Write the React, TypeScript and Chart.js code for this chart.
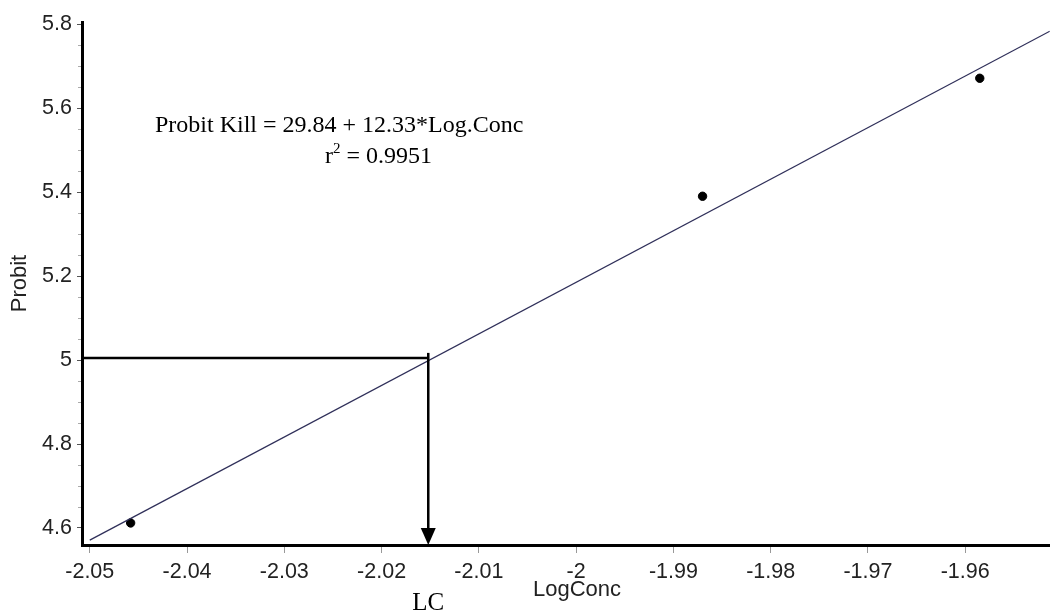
import React, { useEffect, useRef } from "react";
import { Chart, registerables } from "chart.js";

Chart.register(...registerables);

// Observed data points
const pointX = [-2.0458, -1.987, -1.9585];
const pointY = [4.612, 5.39, 5.671];

// Fitted regression line end points
const fitX = [-2.05, -1.9513];
const fitY = [4.571, 5.783];

// LC guide (probit 5 crossing)
const lcX = -2.0152;
const lcY = 5.005;
const lcTop = 5.017;

// Axis ranges and tick labels
const xMin = -2.0508;
const xMax = -1.9513;
const yMin = 4.5595;
const yMax = 5.805;
const xTicks = [-2.05, -2.04, -2.03, -2.02, -2.01, -2.0, -1.99, -1.98, -1.97, -1.96];
const yTicks = [4.6, 4.8, 5.0, 5.2, 5.4, 5.6, 5.8];
const yMinorTicks = [4.65, 4.7, 4.75, 4.85, 4.9, 4.95, 5.05, 5.1, 5.15, 5.25, 5.3, 5.35, 5.45, 5.5, 5.55, 5.65, 5.7, 5.75];

const xTitle = "LogConc";
const yTitle = "Probit";
const equationText = "Probit Kill = 29.84 + 12.33*Log.Conc";
const r2Value = "0.9951";
const lcLabel = "LC";

const SANS = "'Liberation Sans', Arial, sans-serif";
const SERIF = "'Liberation Serif', 'Times New Roman', serif";

const overlayPlugin = {
  id: "overlay",
  afterDatasetsDraw(chart: any) {
    const { ctx, chartArea, scales } = chart;
    const xs = scales.x;
    const ys = scales.y;
    ctx.save();

    // minor y ticks
    ctx.strokeStyle = "#aaa";
    ctx.lineWidth = 1;
    for (const v of yMinorTicks) {
      const py = Math.round(ys.getPixelForValue(v)) + 0.5;
      ctx.beginPath();
      ctx.moveTo(chartArea.left - 4, py);
      ctx.lineTo(chartArea.left - 1, py);
      ctx.stroke();
    }

    // LC guide lines
    const px = xs.getPixelForValue(lcX);
    const py = ys.getPixelForValue(lcY);
    const pTop = ys.getPixelForValue(lcTop);
    const pBottom = ys.getPixelForValue(yMin);
    ctx.strokeStyle = "#000";
    ctx.lineWidth = 2.5;
    ctx.beginPath();
    ctx.moveTo(chartArea.left, py);
    ctx.lineTo(px, py);
    ctx.stroke();
    ctx.beginPath();
    ctx.moveTo(px, pTop);
    ctx.lineTo(px, pBottom - 10);
    ctx.stroke();
    ctx.fillStyle = "#000";
    ctx.beginPath();
    ctx.moveTo(px, pBottom);
    ctx.lineTo(px - 7.5, pBottom - 17);
    ctx.lineTo(px + 7.5, pBottom - 17);
    ctx.closePath();
    ctx.fill();

    // Axis titles
    ctx.fillStyle = "#222";
    ctx.font = `22px ${SANS}`;
    ctx.textAlign = "center";
    ctx.textBaseline = "middle";
    ctx.fillText(xTitle, 577, 590);
    ctx.save();
    ctx.translate(20, (chartArea.top + chartArea.bottom) / 2);
    ctx.rotate(-Math.PI / 2);
    ctx.fillText(yTitle, 0, 0);
    ctx.restore();

    // Equation text
    ctx.fillStyle = "#000";
    ctx.textBaseline = "alphabetic";
    ctx.textAlign = "left";
    ctx.font = `24px ${SERIF}`;
    ctx.fillText(equationText, 155, 132);
    let x = 325;
    const by = 163;
    ctx.fillText("r", x, by);
    x += ctx.measureText("r").width;
    ctx.font = `15px ${SERIF}`;
    ctx.fillText("2", x, by - 10);
    x += ctx.measureText("2").width;
    ctx.font = `24px ${SERIF}`;
    ctx.fillText(" = " + r2Value, x, by);

    // LC label
    ctx.font = `25px ${SERIF}`;
    ctx.textAlign = "center";
    ctx.fillText(lcLabel, px, 610);

    ctx.restore();
  },
};

const fmt = (v: number) => String(Number(Number(v).toFixed(2)));

export default function App() {
  const ref = useRef<HTMLCanvasElement | null>(null);

  useEffect(() => {
    if (!ref.current) return;
    const chart = new Chart(ref.current, {
      type: "scatter",
      data: {
        datasets: [
          {
            label: "Fit",
            type: "line",
            data: fitX.map((x, i) => ({ x, y: fitY[i] })),
            borderColor: "#30305a",
            borderWidth: 1.3,
            pointRadius: 0,
            fill: false,
          },
          {
            label: "Observed",
            data: pointX.map((x, i) => ({ x, y: pointY[i] })),
            backgroundColor: "#000",
            borderColor: "#000",
            pointRadius: 4.2,
            pointHoverRadius: 4.2,
          },
        ],
      },
      plugins: [overlayPlugin],
      options: {
        animation: false,
        responsive: true,
        maintainAspectRatio: false,
        layout: { padding: { top: 22, right: 0, left: 0, bottom: 0 } },
        plugins: {
          legend: { display: false },
          tooltip: { enabled: false },
        },
        scales: {
          x: {
            type: "linear",
            min: xMin,
            max: xMax,
            afterBuildTicks: (scale: any) => {
              scale.ticks = xTicks.map((v) => ({ value: v }));
            },
            afterFit: (scale: any) => {
              scale.height = 67;
            },
            ticks: {
              autoSkip: false,
              maxRotation: 0,
              padding: 6,
              color: "#222",
              font: { family: SANS, size: 21.5 },
              callback: (v: any) => fmt(v),
            },
            grid: {
              drawOnChartArea: false,
              drawTicks: true,
              tickLength: 8,
              tickColor: "#999",
            },
            border: { display: true, color: "#000", width: 3 },
          },
          y: {
            type: "linear",
            min: yMin,
            max: yMax,
            afterBuildTicks: (scale: any) => {
              scale.ticks = yTicks.map((v) => ({ value: v }));
            },
            afterFit: (scale: any) => {
              scale.width = 82;
            },
            ticks: {
              autoSkip: false,
              padding: 5,
              color: "#222",
              font: { family: SANS, size: 21.5 },
              callback: (v: any) => fmt(v),
            },
            grid: {
              drawOnChartArea: false,
              drawTicks: true,
              tickLength: 5,
              tickColor: "#555",
            },
            border: { display: true, color: "#000", width: 3 },
          },
        },
      },
    });
    return () => chart.destroy();
  }, []);

  return (
    <div style={{ position: "absolute", left: 0, top: 0, width: 1055, height: 612 }}>
      <canvas ref={ref} />
    </div>
  );
}
